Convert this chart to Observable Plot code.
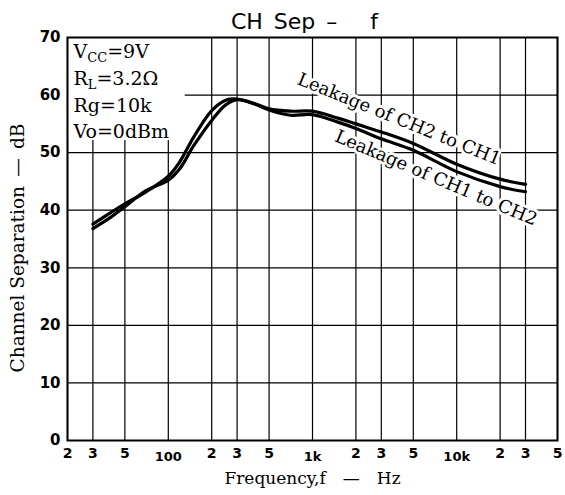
<!DOCTYPE html>
<html><head><meta charset="utf-8">
<script src="https://cdn.jsdelivr.net/npm/d3@7"></script>
<script src="https://cdn.jsdelivr.net/npm/@observablehq/plot@0.6"></script>
<style>body{margin:0;background:#fff}</style>
</head><body><div id="chart"></div>
<script>
// Frequency (Hz) and channel separation (dB)
const freq    = [30,   40,   50,   70,   100,  120,  150,  200,  250,  300,  400,  500,  700,  1000, 1500, 2000, 3000, 5000, 10000, 20000, 30000];
const ch2to1  = [37.6, 39.6, 41.1, 43.2, 45.9, 48.4, 52.7, 57.3, 59.1, 59.3, 58.5, 57.6, 57.2, 57.2, 56.0, 55.0, 53.6, 51.6, 48.0,  45.4,  44.5];
const ch1to2  = [36.8, 38.8, 40.6, 43.4, 45.2, 47.2, 51.2, 55.6, 58.3, 59.2, 58.4, 57.4, 56.5, 56.6, 55.3, 54.2, 52.4, 50.4, 46.7,  44.1,  43.2];

const xTicks      = [20, 30, 50, 100, 200, 300, 500, 1000, 2000, 3000, 5000, 10000, 20000, 30000, 50000];
const xTickLabels = ["2","3","5","100","2","3","5","1k","2","3","5","10k","2","3","5"];
const decadeTicks = [100, 1000, 10000];
const yTicks      = [0, 10, 20, 30, 40, 50, 60, 70];

const titleText = "CH\u2002Sep\u2002\u2013\u2003\u2002f";
const xLabel = "Frequency,f\u2003\u2014\u2003Hz";
const yLabel = "Channel Separation\u2002\u2014\u2002dB";

const params    = ["V_CC=9V", "R_L=3.2\u03A9", "Rg=10k", "Vo=0dBm"];
const paramDb   = [66.4, 61.7, 57.0, 52.6];
const paramFreq = 20;
const boxFreq = [20, 131];
const boxDb   = [52.1, 70];

const leakLabels = ["Leakage of CH2 to CH1", "Leakage of CH1 to CH2"];
const leakFreq   = [4000, 7200];
const leakDb     = [55.8, 45.6];
const leakAngle  = [22, 23];

const serif = "'DejaVu Serif', serif";
const sans = "'DejaVu Sans', sans-serif";

const labelOf = new Map(xTicks.map((t, i) => [t, xTickLabels[i]]));
const minorTicks = xTicks.filter(t => !decadeTicks.includes(t));
const rowsA = freq.map((f, i) => ({f, v: ch2to1[i]}));
const rowsB = freq.map((f, i) => ({f, v: ch1to2[i]}));
const paramRows = params.map((t, i) => ({t, f: paramFreq, v: paramDb[i]}));
const leakRows = leakLabels.map((t, i) => ({t, f: leakFreq[i], v: leakDb[i], a: leakAngle[i]}));

const chart = Plot.plot({
  width: 565, height: 495,
  marginLeft: 67, marginRight: 8, marginTop: 37, marginBottom: 55,
  x: {type: "log", domain: [20, 50000], axis: null},
  y: {domain: [0, 70], axis: null},
  style: {background: "white", color: "black"},
  marks: [
    Plot.ruleX(xTicks, {stroke: "black", strokeWidth: 1.2}),
    Plot.ruleY(yTicks, {stroke: "black", strokeWidth: 1.2}),
    Plot.rect([{x1: boxFreq[0], x2: boxFreq[1], y1: boxDb[0], y2: boxDb[1]}], {x1: "x1", x2: "x2", y1: "y1", y2: "y2", fill: "white"}),
    Plot.text(leakRows, {x: "f", y: "v", text: "t", rotate: "a", fontSize: 18, fontFamily: serif, fill: "black", stroke: "white", strokeWidth: 6}),
    Plot.text(paramRows, {x: "f", y: "v", text: "t", dx: 6, textAnchor: "start", lineAnchor: "bottom", fontSize: 19, fontFamily: serif, fill: "black"}),
    Plot.line(rowsA, {x: "f", y: "v", stroke: "black", strokeWidth: 3.2, curve: "catmull-rom"}),
    Plot.line(rowsB, {x: "f", y: "v", stroke: "black", strokeWidth: 3.2, curve: "catmull-rom"}),
    Plot.frame({stroke: "black", strokeWidth: 2}),
    Plot.text(minorTicks, {x: d => d, text: d => labelOf.get(d), frameAnchor: "bottom", lineAnchor: "top", dy: 8, fontSize: 14, fontWeight: "bold", fontFamily: sans}),
    Plot.text(decadeTicks, {x: d => d, text: d => labelOf.get(d), frameAnchor: "bottom", lineAnchor: "top", dy: 11, fontSize: 13, fontWeight: "bold", fontFamily: sans}),
    Plot.axisY(yTicks, {tickSize: 0, tickPadding: 7, fontSize: 15, fontWeight: "bold", fontFamily: sans, label: null}),
    Plot.text([titleText], {text: d => d, frameAnchor: "top", lineAnchor: "top", dy: -24, dx: -8, fontSize: 22, fontFamily: sans}),
    Plot.text([xLabel], {text: d => d, frameAnchor: "bottom", lineAnchor: "bottom", textAnchor: "middle", dy: 43, fontSize: 17, fontFamily: serif}),
    Plot.text([yLabel], {text: d => d, frameAnchor: "left", textAnchor: "middle", dx: -49, dy: 9, rotate: -90, fontSize: 18.5, fontFamily: serif})
  ]
});

// subscripts for V_CC and R_L
d3.select(chart).selectAll("text").filter(function() { return /^.\_[A-Z]+/.test(this.textContent); }).each(function() {
  const m = this.textContent.match(/^(.)_([A-Z]+)(.*)$/);
  this.textContent = "";
  const t = d3.select(this);
  t.append("tspan").text(m[1]);
  t.append("tspan").attr("dy", 4).attr("font-size", 13).text(m[2]);
  t.append("tspan").attr("dy", -4).text(m[3]);
});

document.getElementById("chart").appendChild(chart);
</script>
</body></html>
